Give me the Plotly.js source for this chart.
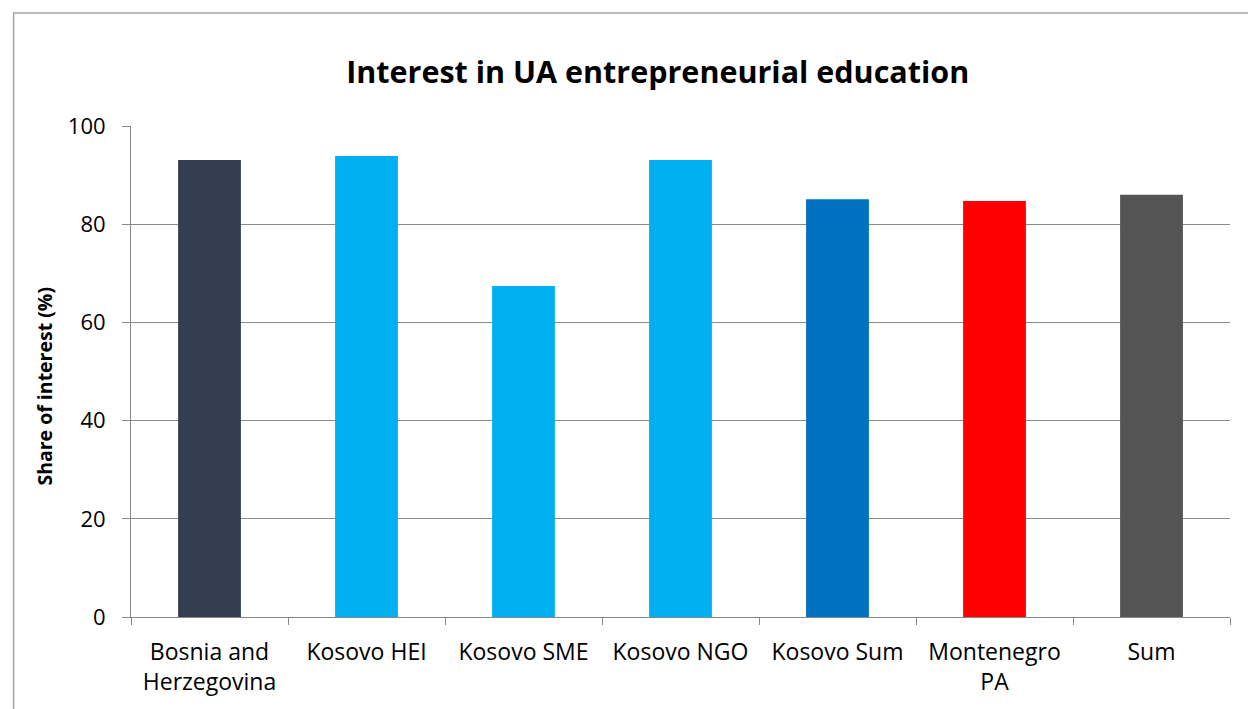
<!DOCTYPE html>
<html>
<head>
<meta charset="utf-8">
<script src="https://cdn.plot.ly/plotly-3.0.1.min.js"></script>
<style>
html,body{margin:0;padding:0;background:#fff;}
#chart{width:1248px;height:709px;}
</style>
</head>
<body>
<div id="chart"></div>
<script>
const categories = ["Bosnia and<br>Herzegovina", "Kosovo HEI", "Kosovo SME", "Kosovo NGO", "Kosovo Sum", "Montenegro<br>PA", "Sum"];
const shareOfInterest = [93.1, 93.9, 67.4, 93.1, 85.1, 84.7, 86.0];
const barColors = ["#333F50", "#00B0F0", "#00B0F0", "#00B0F0", "#0070C0", "#FF0000", "#545454"];
const yTicks = [0, 20, 40, 60, 80, 100];
const yAxisTitle = "Share of interest (%)";

const font = "Open Sans, Noto Sans, Liberation Sans, sans-serif";

const trace = {
  type: "bar",
  x: categories,
  y: shareOfInterest,
  marker: {color: barColors, line: {width: 0}},
  hoverinfo: "x+y"
};

const layout = {
  width: 1248,
  height: 709,
  paper_bgcolor: "#ffffff",
  plot_bgcolor: "#ffffff",
  margin: {l: 130.5, r: 17.5, t: 126, b: 92},
  bargap: 0.6,
  showlegend: false,
  font: {family: font, color: "#000000"},
  title: {
    text: "<b>Interest in UA entrepreneurial education</b>",
    font: {family: font, size: 30.5, color: "#000000"},
    x: 0.527, xanchor: "center",
    y: 0.898, yanchor: "middle"
  },
  xaxis: {
    type: "category",
    showline: true, linecolor: "#888888", linewidth: 1,
    ticks: "outside", tickson: "boundaries", ticklen: 7, tickcolor: "#888888",
    ticklabelstandoff: 14,
    tickfont: {family: font, size: 23, color: "#000000"},
    showgrid: false, zeroline: false,
    fixedrange: true
  },
  yaxis: {
    range: [0, 100],
    tickvals: yTicks,
    ticktext: yTicks.map(String),
    showline: true, linecolor: "#888888", linewidth: 1,
    ticks: "outside", ticklen: 8, tickcolor: "#888888",
    ticklabelstandoff: 12,
    tickfont: {family: font, size: 22, color: "#000000"},
    showgrid: true, gridcolor: "#8a8a8a", gridwidth: 1,
    zeroline: false,
    fixedrange: true
  },
  annotations: [{
    text: "<b>" + yAxisTitle + "</b>",
    xref: "paper", yref: "paper",
    x: -0.0786, y: 0.4705,
    xanchor: "center", yanchor: "middle",
    textangle: -90, showarrow: false,
    font: {family: font, size: 19.5, color: "#000000"}
  }],
  shapes: [{
    type: "rect", xref: "paper", yref: "paper",
    x0: -0.1068, x1: 1.03, y0: -0.25, y1: 1.2302,
    line: {color: "#a6a6a6", width: 1.5}, fillcolor: "rgba(0,0,0,0)", layer: "below"
  }]
};

Plotly.newPlot("chart", [trace], layout, {displayModeBar: false, staticPlot: true});
</script>
</body>
</html>
